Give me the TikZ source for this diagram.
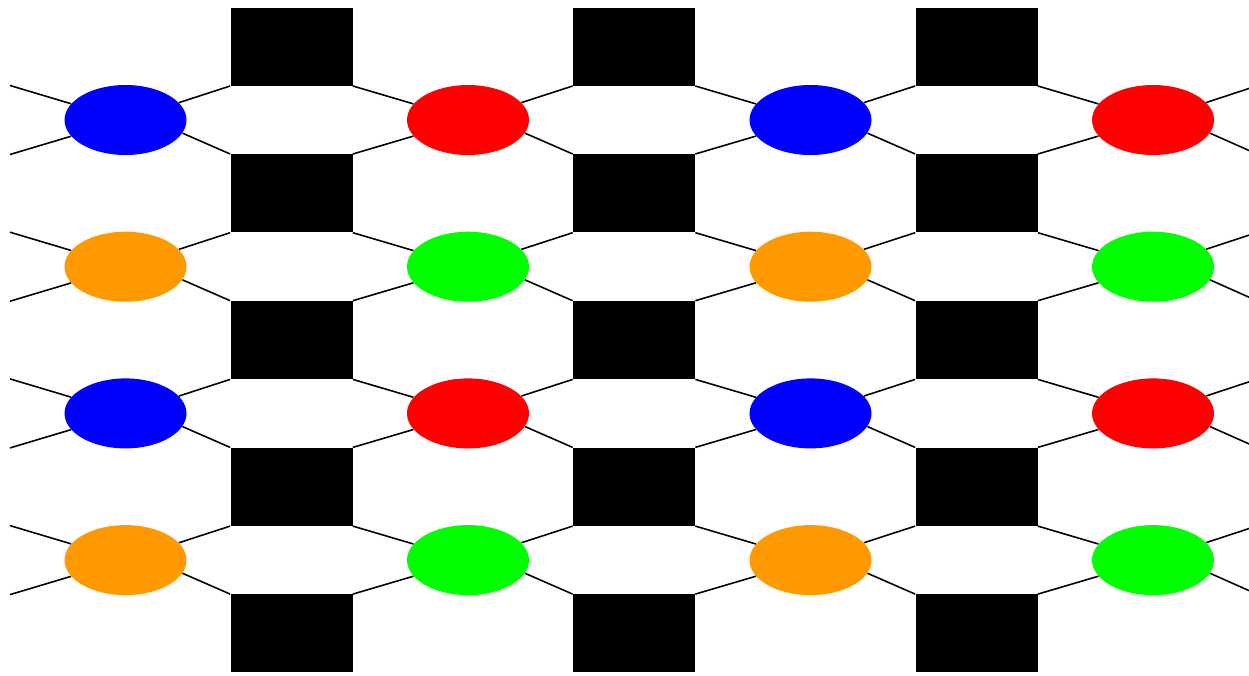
\documentclass[tikz,border=0pt]{standalone}
\usepackage{xcolor}
\usepackage{tikz}
\usetikzlibrary{shapes.geometric, positioning, calc}

\definecolor{siteorange}{RGB}{255,153,0}

\begin{document}
\begin{tikzpicture}[
    site/.style={ellipse, draw=none, minimum width=2.44cm, minimum height=1.4cm,
                 inner sep=0pt},
    plaquette/.style={rectangle, draw=none, fill=black, minimum width=2.44cm,
                      minimum height=1.56cm, inner sep=0pt},
    bond/.style={black, line width=0.9pt}
]
\useasboundingbox (0,0) rectangle (24.98,13.5);
\clip (0,0) rectangle (24.98,13.5);

% Black plaquettes: three columns, five rows.
\foreach \c in {0,1,2} {
    \foreach \r in {0,...,4} {
        \node[plaquette] (sq-\r-\c) at ({5.83+6.85*\c},{12.567-2.934*\r}) {};
    }
}

% Coloured sites, alternating by row and column.
\foreach \r/\ca/\cb in {0/blue/red, 1/siteorange/green, 2/blue/red, 3/siteorange/green} {
    \foreach \c/\col in {0/\ca, 1/\cb, 2/\ca, 3/\cb} {
        \node[site, fill=\col] (site-\r-\c) at ({2.51+6.85*\c},{11.1-2.934*\r}) {};
    }
}

% Bonds between sites and plaquette corners.
\foreach \r in {0,...,3} {
    \pgfmathtruncatemacro\rn{\r+1}
    \pgfmathsetmacro\y{11.1-2.934*\r}
    \coordinate (west-\r-a) at (0.2,{\y+0.69});
    \coordinate (west-\r-b) at (0.2,{\y-0.69});
    \coordinate (east-\r-a) at (25.16,{\y+0.69});
    \coordinate (east-\r-b) at (25.16,{\y-0.69});
    \draw[bond] (west-\r-a) -- (site-\r-0);
    \draw[bond] (west-\r-b) -- (site-\r-0);
    \draw[bond] (site-\r-3) -- (east-\r-a);
    \draw[bond] (site-\r-3.-13) -- (east-\r-b);
    \foreach \c in {0,1,2} {
        \pgfmathtruncatemacro\cn{\c+1}
        \draw[bond] (site-\r-\c) -- (sq-\r-\c.south west);
        \draw[bond] (site-\r-\c.-13) -- (sq-\rn-\c.north west);
        \draw[bond] (sq-\r-\c.south east) -- (site-\r-\cn);
        \draw[bond] (sq-\rn-\c.north east) -- (site-\r-\cn);
    }
}
\end{tikzpicture}
\end{document}
